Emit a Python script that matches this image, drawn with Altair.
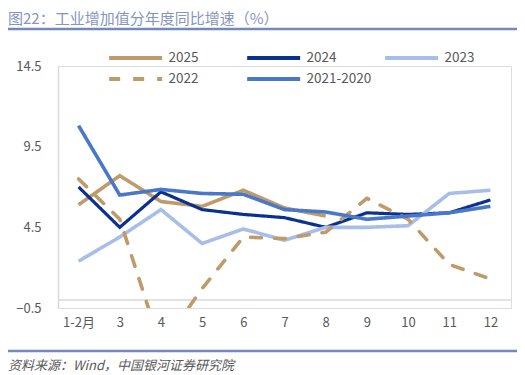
import altair as alt
import pandas as pd

months = ["1-2月", "3", "4", "5", "6", "7", "8", "9", "10", "11", "12"]
series_names = ["2025", "2024", "2023", "2022", "2021-2020"]
s2025 = [5.9, 7.7, 6.1, 5.8, 6.8, 5.7, 5.2]
s2024 = [7.0, 4.5, 6.7, 5.6, 5.3, 5.1, 4.5, 5.4, 5.3, 5.4, 6.2]
s2023 = [2.4, 3.9, 5.6, 3.5, 4.4, 3.7, 4.5, 4.5, 4.6, 6.6, 6.8]
s2022 = [7.5, 5.0, -2.9, 0.7, 3.9, 3.8, 4.2, 6.3, 5.0, 2.2, 1.3]
s2120 = [10.8, 6.5, 6.85, 6.6, 6.55, 5.6, 5.45, 5.0, 5.2, 5.4, 5.8]
y_ticks = [-0.5, 4.5, 9.5, 14.5]

colors = ["#BF9A6A", "#0B3190", "#A6BEE8", "#BF9A6A", "#4A78C8"]
dashes = [[1, 0], [1, 0], [1, 0], [11, 13], [1, 0]]
widths = [3.6, 3.2, 3.6, 3.6, 3.6]

rows = []
for name, vals in zip(series_names, [s2025, s2024, s2023, s2022, s2120]):
    for i, v in enumerate(vals):
        rows.append({"month": months[i], "value": v, "series": name})
df = pd.DataFrame(rows)

FONT = "Noto Sans CJK SC"
GRAY = "#595959"
LINEBLUE = "#7189BF"

x_enc = alt.X("month:O", sort=months,
              scale=alt.Scale(type="point", padding=0.5),
              axis=alt.Axis(title=None, labelAngle=0, ticks=False, domain=False,
                            labelPadding=8, labelFont=FONT, labelFontSize=13,
                            labelColor=GRAY))
y_enc = alt.Y("value:Q",
              scale=alt.Scale(domain=[-0.5, 14.5], nice=False, zero=False),
              axis=alt.Axis(title=None, values=y_ticks, grid=False, ticks=False,
                            labelPadding=17, domainColor="#D9D9D9", domainWidth=1.5,
                            labelFont=FONT, labelFontSize=13, labelColor=GRAY,
                            format=".1f"))

zero_rule = alt.Chart(pd.DataFrame({"z": [0]})).mark_rule(
    color="#D9D9D9", strokeWidth=1.5).encode(y=alt.Y("z:Q", scale=alt.Scale(domain=[-0.5, 14.5])))

lines = []
for name, c, d, w in zip(series_names, colors, dashes, widths):
    lines.append(
        alt.Chart(df[df.series == name]).mark_line(
            clip=True, strokeWidth=w,
            strokeCap="round" if name == "2022" else "butt",
            strokeJoin="miter").encode(
            x=x_enc, y=y_enc,
            color=alt.Color("series:N",
                            scale=alt.Scale(domain=series_names, range=colors),
                            sort=series_names,
                            legend=alt.Legend(
                                title=None, orient="none", legendX=49, legendY=-19,
                                direction="horizontal",
                                columns=3, gridAlign="all", columnPadding=5,
                                rowPadding=2, symbolType="M-1,0L5,0", symbolSize=312,
                                symbolStrokeWidth=4, labelOffset=39.5,
                                labelFont=FONT, labelFontSize=13.5, labelColor=GRAY)),
            strokeDash=alt.StrokeDash("series:N",
                                      scale=alt.Scale(domain=series_names, range=dashes),
                                      sort=series_names, legend=None),
        )
    )

title_txt = alt.Chart(pd.DataFrame({"t": ["图22：工业增加值分年度同比增速（%）"]})).mark_text(
    align="left", baseline="middle", font=FONT, fontSize=15, color="#8595BE"
).encode(text="t:N", x=alt.value(-50), y=alt.value(-47))

source_txt = alt.Chart(pd.DataFrame({"t": ["资料来源：Wind，中国银河证券研究院"]})).mark_text(
    align="left", baseline="middle", font=FONT, fontSize=13, fontStyle="italic", color=GRAY
).encode(text="t:N", x=alt.value(-50), y=alt.value(300))

top_line = alt.Chart(pd.DataFrame({"a": [0]})).mark_rule(color=LINEBLUE, strokeWidth=2.5).encode(
    x=alt.value(-50), x2=alt.value(459), y=alt.value(-37))
bottom_line = alt.Chart(pd.DataFrame({"a": [0]})).mark_rule(color=LINEBLUE, strokeWidth=2.5).encode(
    x=alt.value(-50), x2=alt.value(459), y=alt.value(285))

chart = alt.layer(zero_rule, *lines, title_txt, source_txt, top_line, bottom_line).resolve_scale(
    y="shared").properties(
    width=453, height=242,
    autosize=alt.AutoSizeParams(type="none"),
    padding={"left": 50, "top": 58, "right": 6, "bottom": 66},
).configure_view(stroke=None).configure(background="white")

chart.save("out.html", embed_options={"renderer": "svg", "actions": False})
